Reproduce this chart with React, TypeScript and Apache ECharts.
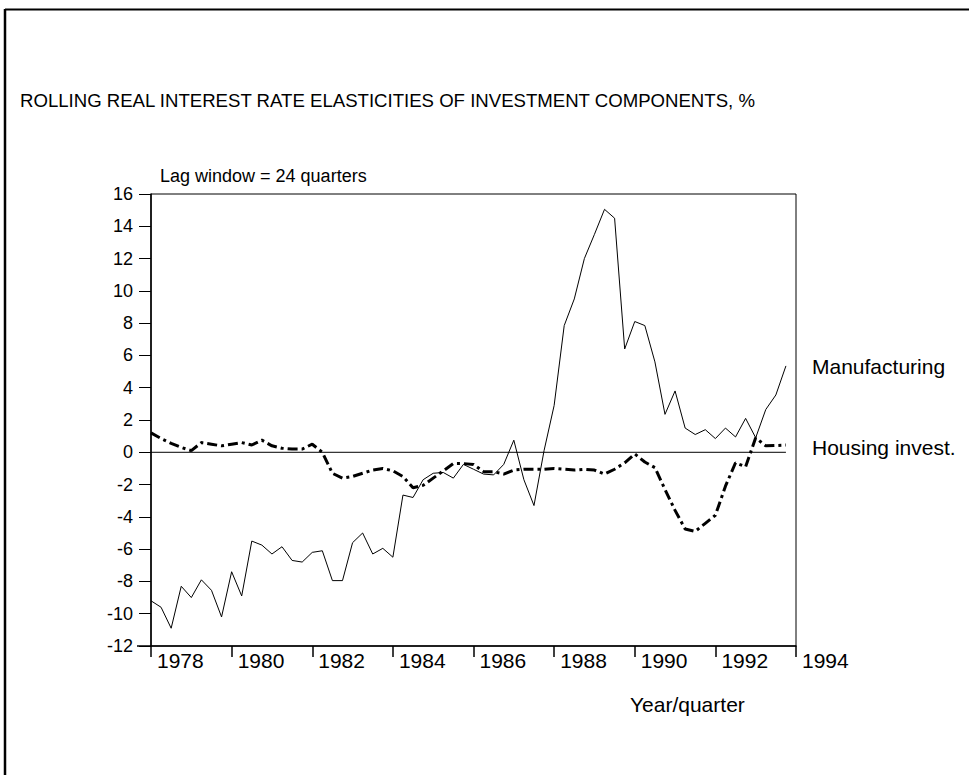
import React, { useEffect, useRef } from "react";
import * as echarts from "echarts";

const startYear = 1978;
const yearTicks = ["1978", "1980", "1982", "1984", "1986", "1988", "1990", "1992", "1994"];

// 1978Q1 .. 1993Q4
const manufacturing = [
  -9.2, -9.6, -10.9, -8.3, -9.0, -7.9, -8.55, -10.2,
  -7.4, -8.9, -5.5, -5.75, -6.3, -5.85, -6.7, -6.8,
  -6.2, -6.1, -7.95, -7.95, -5.6, -5.0, -6.3, -5.95,
  -6.5, -2.65, -2.8, -1.7, -1.3, -1.25, -1.6, -0.75,
  -1.05, -1.35, -1.4, -0.75, 0.75, -1.7, -3.3, 0.1,
  2.9, 7.85, 9.5, 12.0, 13.5, 15.05, 14.5, 6.4,
  8.1, 7.85, 5.6, 2.35, 3.8, 1.5, 1.1, 1.4,
  0.85, 1.5, 0.95, 2.1, 0.9, 2.65, 3.55, 5.35,
];

const housing = [
  1.2, 0.85, 0.55, 0.3, 0.1, 0.6, 0.5, 0.4,
  0.5, 0.6, 0.45, 0.75, 0.4, 0.25, 0.2, 0.2,
  0.5, 0.0, -1.3, -1.6, -1.5, -1.3, -1.1, -1.0,
  -1.15, -1.5, -2.2, -2.05, -1.6, -1.15, -0.7, -0.7,
  -0.75, -1.2, -1.2, -1.35, -1.1, -1.05, -1.05, -1.05,
  -1.0, -1.05, -1.1, -1.05, -1.1, -1.35, -1.05, -0.65,
  -0.1, -0.6, -0.95, -2.3, -3.6, -4.75, -4.9, -4.4,
  -3.9, -2.1, -0.65, -0.9, 0.9, 0.4, 0.42, 0.45,
];

const zeroLine = [0, 0];

const FONT = "'Liberation Sans', Arial, Helvetica, sans-serif";

export default function App() {
  const ref = useRef<HTMLDivElement>(null);

  useEffect(() => {
    if (!ref.current) return;
    const chart = echarts.init(ref.current, undefined, { renderer: "svg" });
    const toXY = (arr: number[]) => arr.map((v, i) => [startYear + i / 4, v]);
    const lastX = startYear + (manufacturing.length - 1) / 4;

    chart.setOption({
      animation: false,
      backgroundColor: "#ffffff",
      grid: {
        left: 151,
        right: 173,
        top: 194,
        bottom: 129,
        show: true,
        borderColor: "#000",
        borderWidth: 1,
        backgroundColor: "transparent",
      },
      xAxis: {
        type: "value",
        min: 1978,
        max: 1994,
        interval: 2,
        axisLine: { onZero: false, lineStyle: { color: "#000", width: 1.5 } },
        axisTick: { show: true, length: 11, lineStyle: { color: "#000", width: 1.5 } },
        splitLine: { show: false },
        axisLabel: {
          align: "left",
          margin: 4,
          padding: [0, 0, 0, 6],
          fontSize: 21,
          fontFamily: FONT,
          color: "#000",
          showMinLabel: true,
          showMaxLabel: true,
          formatter: (v: number) => yearTicks[Math.round((v - 1978) / 2)] ?? String(v),
        },
      },
      yAxis: {
        type: "value",
        min: -12,
        max: 16,
        interval: 2,
        axisLine: { show: true, onZero: false, lineStyle: { color: "#000", width: 1.5 } },
        axisTick: { show: true, length: 12, lineStyle: { color: "#000", width: 1 } },
        splitLine: { show: false },
        axisLabel: {
          margin: 18,
          fontSize: 18,
          fontFamily: FONT,
          color: "#000",
        },
      },
      series: [
        {
          name: "zero",
          type: "line",
          data: [[startYear, zeroLine[0]], [lastX, zeroLine[1]]],
          symbol: "none",
          lineStyle: { color: "#000", width: 1 },
          silent: true,
        },
        {
          name: "Manufacturing",
          type: "line",
          data: toXY(manufacturing),
          symbol: "none",
          lineStyle: { color: "#000", width: 1 },
        },
        {
          name: "Housing invest.",
          type: "line",
          data: toXY(housing),
          symbol: "none",
          lineStyle: { color: "#000", width: 3, type: [10, 4, 3, 4] },
        },
      ],
      graphic: [
        {
          type: "line",
          shape: { x1: 5, y1: 9.5, x2: 969, y2: 9.5 },
          style: { stroke: "#000", lineWidth: 2 },
        },
        {
          type: "line",
          shape: { x1: 5, y1: 9, x2: 5, y2: 775 },
          style: { stroke: "#000", lineWidth: 2.5 },
        },
        {
          type: "line",
          shape: { x1: 137, y1: 646, x2: 151, y2: 646 },
          style: { stroke: "#000", lineWidth: 1.5 },
        },
        {
          type: "text",
          x: 20,
          y: 100,
          style: {
            text: "ROLLING REAL INTEREST RATE ELASTICITIES OF INVESTMENT COMPONENTS, %",
            fontSize: 18.6,
            fontFamily: FONT,
            fill: "#000",
            textAlign: "left",
            textVerticalAlign: "middle",
          },
        },
        {
          type: "text",
          x: 160,
          y: 176,
          style: {
            text: "Lag window = 24 quarters",
            fontSize: 18,
            fontFamily: FONT,
            fill: "#000",
            textAlign: "left",
            textVerticalAlign: "middle",
          },
        },
        {
          type: "text",
          x: 812,
          y: 366,
          style: {
            text: "Manufacturing",
            fontSize: 21,
            fontFamily: FONT,
            fill: "#000",
            textAlign: "left",
            textVerticalAlign: "middle",
          },
        },
        {
          type: "text",
          x: 812,
          y: 447,
          style: {
            text: "Housing invest.",
            fontSize: 21,
            fontFamily: FONT,
            fill: "#000",
            textAlign: "left",
            textVerticalAlign: "middle",
          },
        },
        {
          type: "text",
          x: 630,
          y: 704,
          style: {
            text: "Year/quarter",
            fontSize: 21,
            fontFamily: FONT,
            fill: "#000",
            textAlign: "left",
            textVerticalAlign: "middle",
          },
        },
      ],
    });

    return () => chart.dispose();
  }, []);

  return (
    <div
      ref={ref}
      style={{ position: "fixed", left: 0, top: 0, width: 969, height: 775, background: "#fff" }}
    />
  );
}
